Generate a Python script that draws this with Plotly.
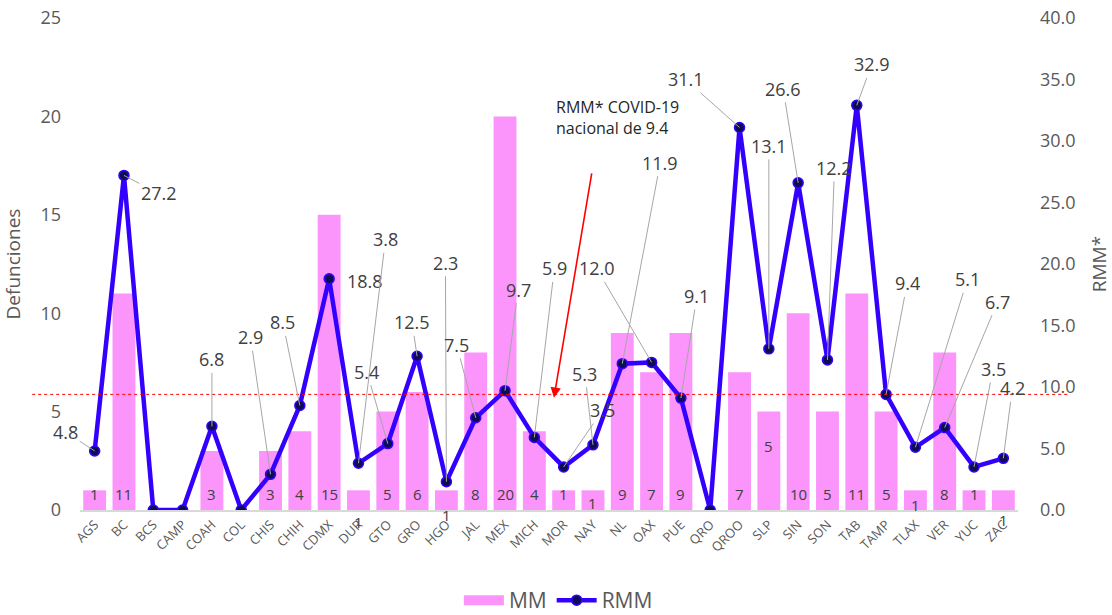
import plotly.graph_objects as go

# ---- data ----
estados = ["AGS", "BC", "BCS", "CAMP", "COAH", "COL", "CHIS", "CHIH", "CDMX", "DUR",
           "GTO", "GRO", "HGO", "JAL", "MEX", "MICH", "MOR", "NAY", "NL", "OAX",
           "PUE", "QRO", "QROO", "SLP", "SIN", "SON", "TAB", "TAMP", "TLAX", "VER",
           "YUC", "ZAC"]
mm = [1, 11, 0, 0, 3, 0, 3, 4, 15, 1,
      5, 6, 1, 8, 20, 4, 1, 1, 9, 7,
      9, 0, 7, 5, 10, 5, 11, 5, 1, 8,
      1, 1]
rmm = [4.8, 27.2, 0, 0, 6.8, 0, 2.9, 8.5, 18.8, 3.8,
       5.4, 12.5, 2.3, 7.5, 9.7, 5.9, 3.5, 5.3, 11.9, 12.0,
       9.1, 0, 31.1, 13.1, 26.6, 12.2, 32.9, 9.4, 5.1, 6.7,
       3.5, 4.2]
rmm_nacional = 9.4
left_ticks = [0, 5, 10, 15, 20, 25]
right_ticks = [0, 5, 10, 15, 20, 25, 30, 35, 40]

# ---- label placement (pixel offsets, style only) ----
rmm_label_off = {  # estado: (dx, dy, leader)
    "AGS": (-29, -19, True), "BC": (35, 18, True), "COAH": (0, -67, True),
    "CHIS": (-20, -137, True), "CHIH": (-17, -83, True), "CDMX": (36, 2, False),
    "DUR": (27, -224, True), "GTO": (-21, -72, True), "GRO": (-5, -34, True),
    "HGO": (-1, -219, True), "JAL": (-19, -73, True), "MEX": (13, -101, True),
    "MICH": (20, -169, True), "MOR": (39, -57, True), "NAY": (-8, -71, True),
    "NL": (38, -201, True), "OAX": (-55, -94, True), "PUE": (16, -102, True),
    "QROO": (-54, -48, True), "SLP": (0, -203, True), "SIN": (-15, -94, True),
    "SON": (7, -192, True), "TAB": (15, -41, True), "TAMP": (21, -111, True),
    "TLAX": (52, -168, True), "VER": (53, -126, True), "YUC": (19, -98, True),
    "ZAC": (9, -70, True),
}
bar_label_yshift_default = 16
bar_label_yshift = {"DUR": -12, "HGO": -5, "NAY": 7, "SLP": 64, "TLAX": 5, "ZAC": -10}

FONT = "Open Sans"
TXT = "#404040"
TICK = "#595959"
PINK = "#FB94FB"

fig = go.Figure()
fig.add_trace(go.Bar(
    x=estados, y=mm, name="MM", marker=dict(color=PINK, line=dict(width=0)),
    width=0.78, yaxis="y", showlegend=False,
))
# legend swatch for MM (wide pink box like the original)
fig.add_trace(go.Scatter(
    x=[None], y=[None], name="MM", mode="lines", yaxis="y",
    line=dict(color=PINK, width=15), showlegend=True,
))
fig.add_trace(go.Scatter(
    x=estados, y=rmm, name="RMM", mode="lines+markers", yaxis="y2",
    line=dict(color="#3300FF", width=4.5),
    marker=dict(color="#0D0D55", size=10, line=dict(color="#3300FF", width=1.5)),
))

annotations = []
# bar value labels
for e, v in zip(estados, mm):
    if v == 0:
        continue
    annotations.append(dict(
        x=e, y=0, xref="x", yref="y", text=str(v), showarrow=False,
        yshift=bar_label_yshift.get(e, bar_label_yshift_default),
        font=dict(family=FONT, size=15, color=TXT),
    ))
# RMM labels with leader lines
for e, v in zip(estados, rmm):
    if e not in rmm_label_off:
        continue
    dx, dy, leader = rmm_label_off[e]
    txt = f"{v:.1f}"
    if leader:
        annotations.append(dict(
            x=e, y=v, xref="x", yref="y2", text=txt, showarrow=True,
            ax=dx, ay=dy, arrowhead=0, arrowwidth=1, arrowcolor="#A6A6A6",
            standoff=0, font=dict(family=FONT, size=18, color=TXT),
        ))
    else:
        annotations.append(dict(
            x=e, y=v, xref="x", yref="y2", text=txt, showarrow=False,
            xshift=dx, yshift=-dy, font=dict(family=FONT, size=18, color=TXT),
        ))
# national note and arrow
annotations.append(dict(
    x=0.5055, y=0.797, xref="paper", yref="paper", xanchor="left", yanchor="middle",
    align="left", showarrow=False,
    text=f"RMM* COVID-19<br>nacional de {rmm_nacional}",
    font=dict(family=FONT, size=16, color="#262626"),
))
annotations.append(dict(
    x=0.5053, y=0.228, xref="paper", yref="paper", showarrow=True, text="",
    ax=38, ay=-226, arrowhead=2, arrowsize=1.3, arrowwidth=1.6, arrowcolor="#FF0000",
    standoff=0,
))

fig.update_layout(
    width=1112, height=615,
    margin=dict(l=80, r=94, t=18, b=105, autoexpand=False),
    paper_bgcolor="white", plot_bgcolor="white",
    font=dict(family=FONT, color=TICK),
    showlegend=True,
    legend=dict(orientation="h", x=0.51, xanchor="center", y=-0.184, yanchor="middle",
                font=dict(family=FONT, size=21, color=TICK), itemwidth=40,
                traceorder="normal"),
    xaxis=dict(
        type="category", range=[-0.5, len(estados) - 0.5], tickangle=-45,
        showgrid=False, showline=True,
        linecolor="#D9D9D9", linewidth=2, ticks="", automargin=False,
        tickfont=dict(family=FONT, size=13, color=TICK),
    ),
    yaxis=dict(
        range=[0, 25], tickvals=left_ticks, showgrid=False, zeroline=False,
        showline=False, ticks="", ticklabelstandoff=18, automargin=False,
        ticklabeloverflow="allow",
        tickfont=dict(family=FONT, size=18, color=TICK),
        title=dict(text="Defunciones", font=dict(family=FONT, size=19, color=TICK), standoff=14),
    ),
    yaxis2=dict(
        range=[0, 40], tickvals=right_ticks, tickformat=".1f", overlaying="y",
        side="right", showgrid=False, zeroline=False, showline=False, ticks="",
        ticklabelstandoff=21, automargin=False, ticklabeloverflow="allow",
        tickfont=dict(family=FONT, size=18, color=TICK),
        title=dict(text="RMM*", font=dict(family=FONT, size=19, color=TICK), standoff=22),
    ),
    annotations=annotations,
    shapes=[dict(
        type="line", xref="paper", yref="y2", x0=-0.051, x1=1.055,
        y0=rmm_nacional, y1=rmm_nacional,
        line=dict(color="#FF0000", width=1, dash="dot"),
    )],
)

fig.write_html("out.html",
               config={"displayModeBar": False},
               post_script="document.body.style.margin='0';"
                           "document.body.style.overflow='hidden';")
